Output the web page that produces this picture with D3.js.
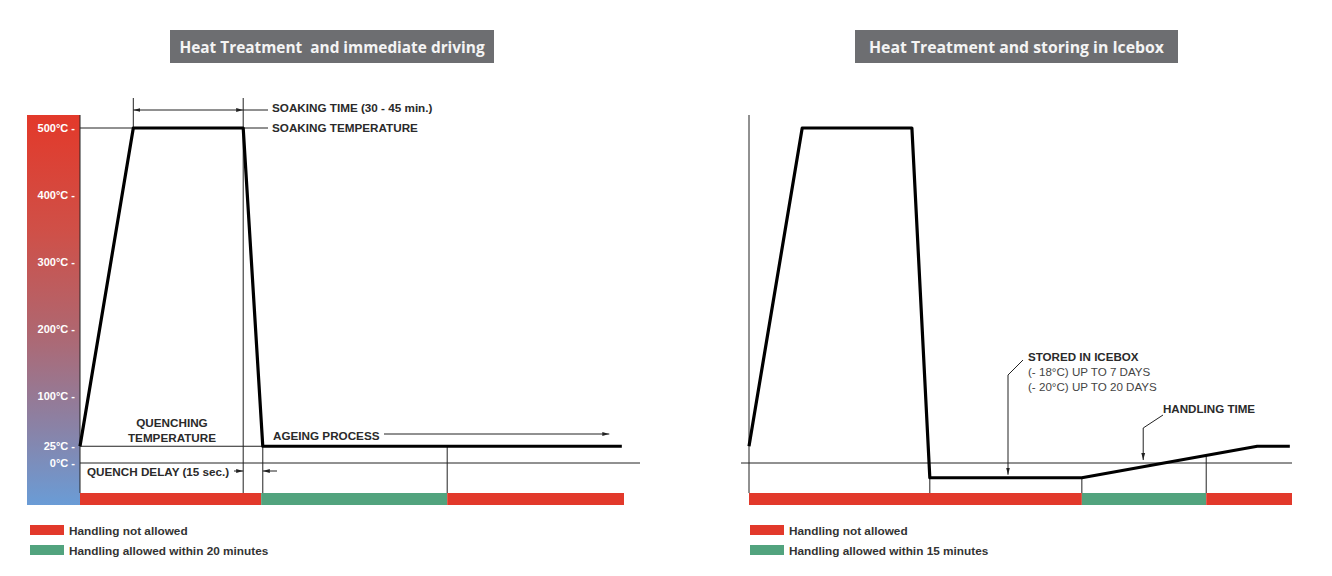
<!DOCTYPE html>
<html><head><meta charset="utf-8">
<script src="https://cdn.jsdelivr.net/npm/d3@7"></script>
<style>
body{margin:0;background:#fff;}
svg{display:block;}
text{font-family:"Liberation Sans",Arial,sans-serif;}
</style></head>
<body><svg id="c" width="1332" height="576"></svg>
<script>
// ---------- data ----------
const tempTicks = [500, 400, 300, 200, 100, 25, 0];
const tempTickLabels = ["500°C -", "400°C -", "300°C -", "200°C -", "100°C -", "25°C -", "0°C -"];

const leftTime = [0, 9.8, 30, 33.6, 99.6];
const leftTemp = [25, 500, 500, 25, 25];
const rightTime = [0, 9.8, 30, 33.3, 61.3, 93.6, 99.6];
const rightTemp = [25, 500, 500, -22, -22, 25, 25];

const leftBandStart = [0, 33.3, 67.5];
const leftBandEnd = [33.3, 67.5, 100];
const leftBandType = ["not", "allowed", "not"];
const rightBandStart = [0, 61.3, 84.2];
const rightBandEnd = [61.3, 84.2, 100];
const rightBandType = ["not", "allowed", "not"];

const titles = ["Heat Treatment  and immediate driving", "Heat Treatment and storing in Icebox"];
const legendLabelsLeft = ["Handling not allowed", "Handling allowed within 20 minutes"];
const legendLabelsRight = ["Handling not allowed", "Handling allowed within 15 minutes"];
const icebox = ["STORED IN ICEBOX", "(- 18°C) UP TO 7 DAYS", "(- 20°C) UP TO 20 DAYS"];

// ---------- layout ----------
const RED = "#e2392b", GREEN = "#52a37e", INK = "#222";
const FS = 11.7;
const barTop = 493, barBot = 505, panelTop = 115;
const svg = d3.select("#c");
const y = d3.scaleLinear().domain([0, 500]).range([463, 128]);
const xL = d3.scaleLinear().domain([0, 100]).range([80, 624]);
const xR = d3.scaleLinear().domain([0, 100]).range([749, 1292]);

const defs = svg.append("defs");
const grad = defs.append("linearGradient").attr("id", "g").attr("x1", 0).attr("x2", 0).attr("y1", 0).attr("y2", 1);
[[0, "#e3392a"], [0.3, "#cf5048"], [0.55, "#b0666f"], [0.8, "#8a82a6"], [1, "#6a9cd6"]]
  .forEach(([o, c]) => grad.append("stop").attr("offset", o).attr("stop-color", c));
defs.append("marker").attr("id", "arr").attr("viewBox", "0 0 7 5").attr("refX", 7).attr("refY", 2.5)
  .attr("markerWidth", 7).attr("markerHeight", 5).attr("markerUnits", "userSpaceOnUse")
  .attr("orient", "auto-start-reverse")
  .append("path").attr("d", "M0,0.6 L7,2.5 L0,4.4 z").attr("fill", INK);

function hline(x1, x2, yy, w = 1) {
  return svg.append("line").attr("x1", x1).attr("x2", x2).attr("y1", yy).attr("y2", yy)
    .attr("stroke", INK).attr("stroke-width", w);
}
function vline(xx, y1, y2, w = 1) {
  return svg.append("line").attr("x1", xx).attr("x2", xx).attr("y1", y1).attr("y2", y2)
    .attr("stroke", INK).attr("stroke-width", w);
}
function label(txt, x, yy, opts = {}) {
  return svg.append("text").attr("x", x).attr("y", yy).text(txt)
    .attr("font-size", opts.size || FS).attr("font-weight", opts.weight || "bold")
    .attr("fill", opts.fill || "#2a2a2a").attr("text-anchor", opts.anchor || "start")
    .attr("dominant-baseline", "central");
}

// ---------- titles ----------
[[170, 494], [855, 1178]].forEach(([a, b], i) => {
  svg.append("rect").attr("x", a).attr("y", 30).attr("width", b - a).attr("height", 33).attr("fill", "#6d6e71");
  svg.append("text").attr("x", (a + b) / 2).attr("y", 47).text(titles[i])
    .attr("text-anchor", "middle").attr("dominant-baseline", "central")
    .style("white-space", "pre").style("font-family", "'Open Sans',sans-serif")
    .attr("font-size", i === 0 ? 15.4 : 15.8).attr("font-weight", "bold").attr("fill", "#f4f4f4");
});

// ---------- left temperature panel ----------
svg.append("rect").attr("x", 27).attr("y", panelTop).attr("width", xL(0) - 27).attr("height", barBot - panelTop).attr("fill", "url(#g)");
tempTicks.forEach((t, i) => label(tempTickLabels[i], 75, y(t), { fill: "#fff", anchor: "end", size: 11 }));
vline(xL(0), panelTop, barTop);

// ---------- left chart ----------
hline(xL(0), xL(leftTime[1]), y(500));
hline(xL(0), xL(leftTime[3]), y(25));
hline(xL(0), 640, y(0));
// soaking time dimension
vline(xL(leftTime[1]), 98, y(500));
vline(xL(leftTime[2]), 98, barTop);
svg.append("line").attr("x1", xL(leftTime[1])).attr("x2", xL(leftTime[2])).attr("y1", 110).attr("y2", 110)
  .attr("stroke", INK).attr("marker-start", "url(#arr)").attr("marker-end", "url(#arr)");
hline(xL(leftTime[2]), 268, 110);
hline(xL(leftTime[2]), 268, y(500));
label("SOAKING TIME (30 - 45 min.)", 272, 107);
label("SOAKING TEMPERATURE", 272, 127);
// quench
vline(xL(leftTime[3]), y(25), barTop);
vline(xL(leftBandEnd[1]), y(25), barTop);
label("QUENCHING", 172, 422, { anchor: "middle" });
label("TEMPERATURE", 172, 437, { anchor: "middle" });
label("QUENCH DELAY (15 sec.)", 87, 471);
svg.append("line").attr("x1", 234).attr("x2", xL(leftTime[2])).attr("y1", 471).attr("y2", 471)
  .attr("stroke", INK).attr("marker-end", "url(#arr)");
svg.append("line").attr("x1", 277).attr("x2", xL(leftTime[3])).attr("y1", 471).attr("y2", 471)
  .attr("stroke", INK).attr("marker-end", "url(#arr)");
label("AGEING PROCESS", 273, 435);
svg.append("line").attr("x1", 384).attr("x2", xL(97.3)).attr("y1", 434).attr("y2", 434)
  .attr("stroke", INK).attr("marker-end", "url(#arr)");

const line = xs => d3.line().x(d => xs(d[0])).y(d => y(d[1]));
svg.append("path").datum(leftTime.map((t, i) => [t, leftTemp[i]])).attr("d", line(xL))
  .attr("fill", "none").attr("stroke", "#000").attr("stroke-width", 3.2).attr("stroke-linejoin", "round");

leftBandStart.forEach((s, i) => svg.append("rect").attr("x", xL(s)).attr("y", barTop)
  .attr("width", xL(leftBandEnd[i]) - xL(s)).attr("height", barBot - barTop)
  .attr("fill", leftBandType[i] === "not" ? RED : GREEN));

// ---------- right chart ----------
vline(xR(0), panelTop, barTop);
hline(741, xR(100), y(0));
const rPts = rightTime.map((t, i) => [t, rightTemp[i]]);
vline(xR(rightTime[3]), y(rightTemp[3]), barTop);
vline(xR(rightTime[4]), y(rightTemp[4]), barTop);
const tAt = t => { for (let i = 1; i < rightTime.length; i++) if (t <= rightTime[i]) {
  const f = (t - rightTime[i-1]) / (rightTime[i] - rightTime[i-1]); return rightTemp[i-1] + f * (rightTemp[i] - rightTemp[i-1]); } return rightTemp[rightTemp.length-1]; };
vline(xR(rightBandStart[2]), y(tAt(rightBandStart[2])), barTop);
svg.append("path").datum(rPts).attr("d", line(xR))
  .attr("fill", "none").attr("stroke", "#000").attr("stroke-width", 3.2).attr("stroke-linejoin", "round");
rightBandStart.forEach((s, i) => svg.append("rect").attr("x", xR(s)).attr("y", barTop)
  .attr("width", xR(rightBandEnd[i]) - xR(s)).attr("height", barBot - barTop)
  .attr("fill", rightBandType[i] === "not" ? RED : GREEN));

// icebox annotation
const ixA = xR(47.7);
svg.append("path").attr("d", `M1023,360 L${ixA},375 L${ixA},${y(-22) - 3}`)
  .attr("fill", "none").attr("stroke", INK).attr("marker-end", "url(#arr)");
label(icebox[0], 1028, 356, { size: 11.6 });
label(icebox[1], 1028, 371, { size: 11.6, weight: "normal", fill: "#444" });
label(icebox[2], 1028, 386, { size: 11.6, weight: "normal", fill: "#444" });
const hxA = xR(72.6);
svg.append("path").attr("d", `M1163,415 L${hxA},428 L${hxA},${y(0) - 3}`)
  .attr("fill", "none").attr("stroke", INK).attr("marker-end", "url(#arr)");
label("HANDLING TIME", 1163, 408, { size: 11.6 });

// ---------- legends ----------
[[30, legendLabelsLeft], [750, legendLabelsRight]].forEach(([lx, labs]) => {
  [RED, GREEN].forEach((c, i) => {
    svg.append("rect").attr("x", lx).attr("y", 525 + i * 20).attr("width", 34).attr("height", 10).attr("fill", c);
    label(labs[i], lx + 39, 531 + i * 20, { size: 11.8, fill: "#333" });
  });
});
</script></body></html>
